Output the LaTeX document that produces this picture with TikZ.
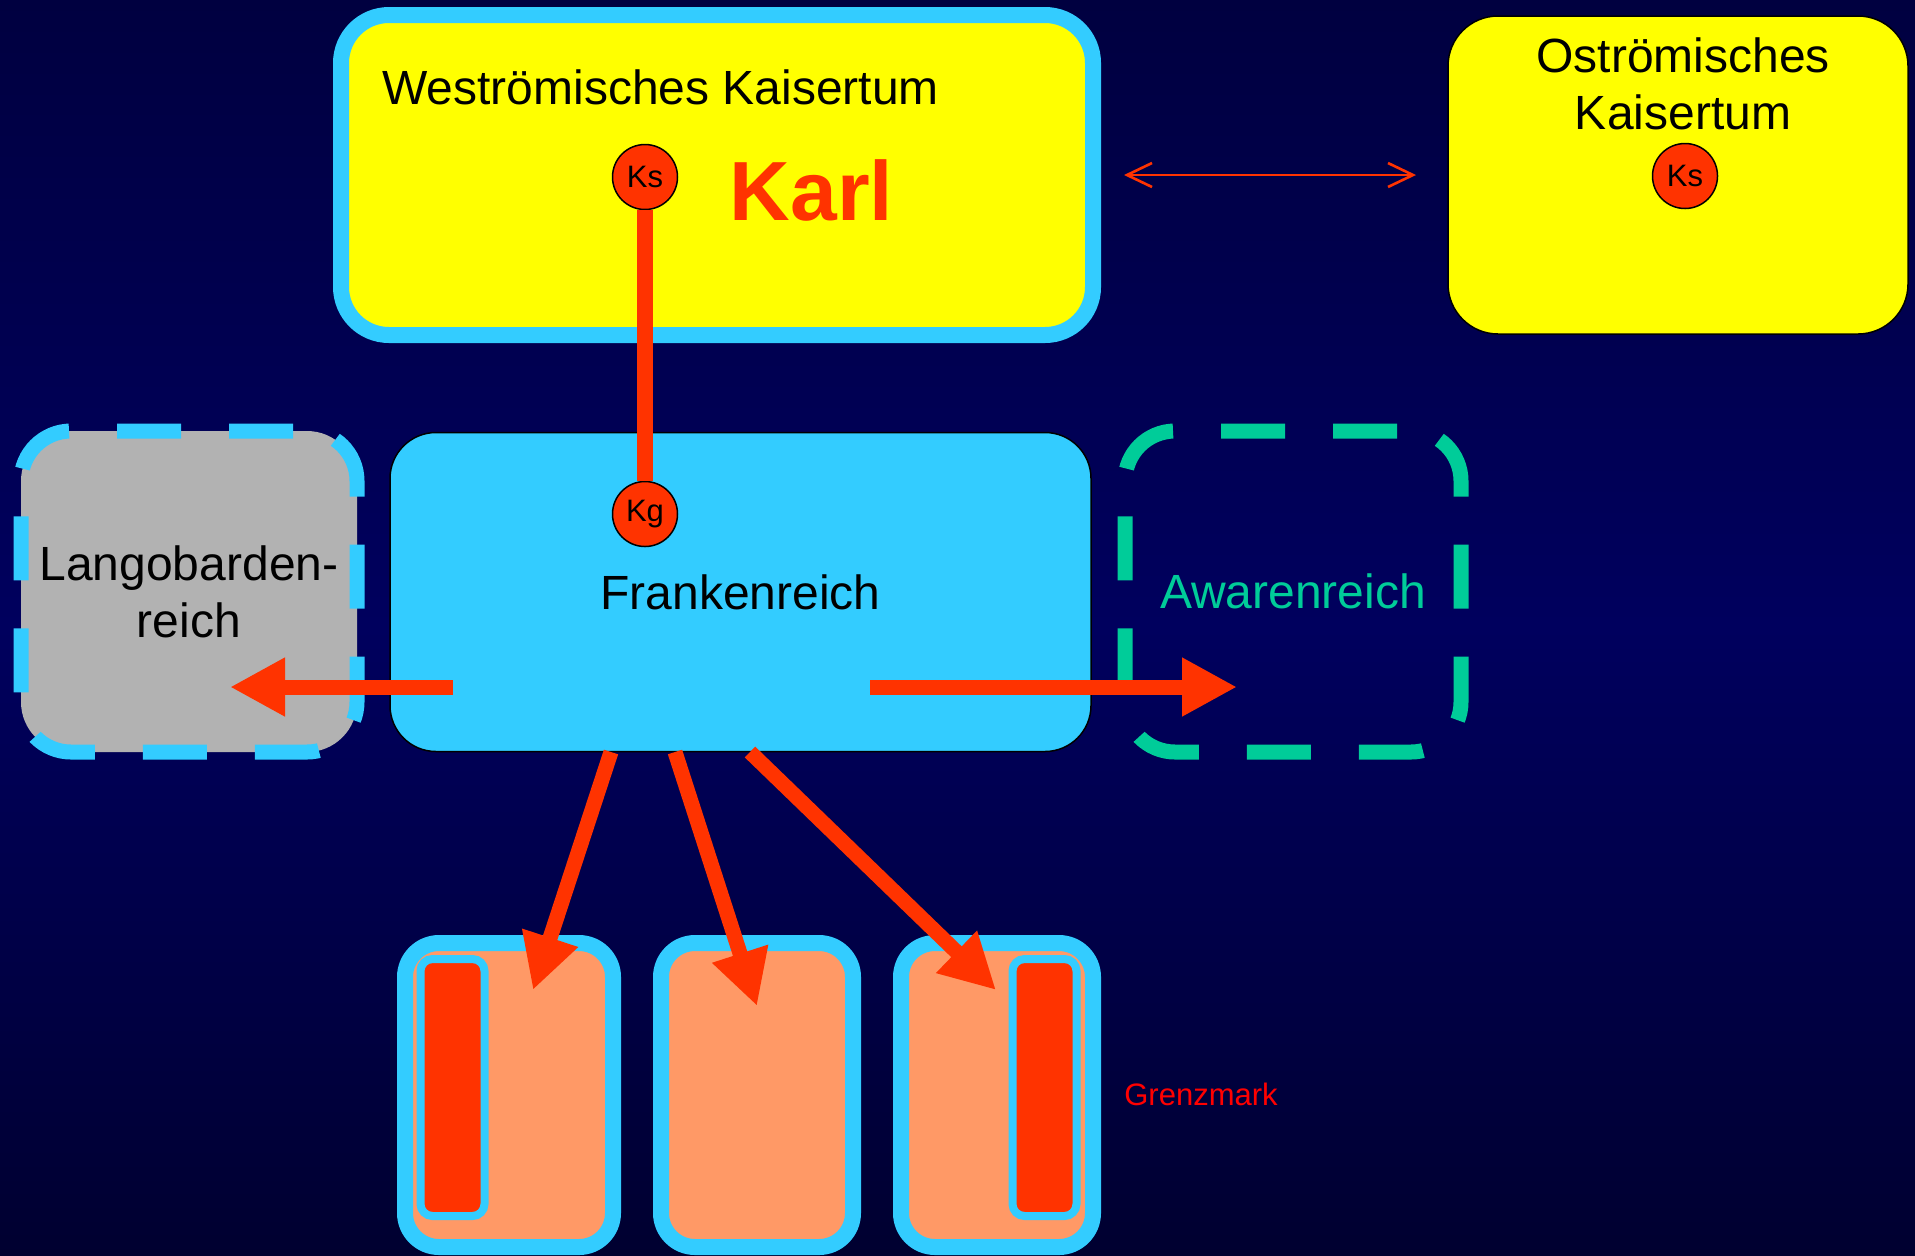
\documentclass[tikz,border=0pt]{standalone}
\usepackage{fontspec}
\setmainfont{Liberation Sans}
\usetikzlibrary{arrows.meta}
\definecolor{bgtop}{HTML}{000040}
\definecolor{bgmid}{HTML}{00005E}
\definecolor{bgbot}{HTML}{000030}
\definecolor{cyanb}{HTML}{33CCFF}
\definecolor{yel}{HTML}{FFFF00}
\definecolor{redo}{HTML}{FF3300}
\definecolor{salmon}{HTML}{FF9966}
\definecolor{grayb}{HTML}{B2B2B2}
\definecolor{greenb}{HTML}{00CC99}
\definecolor{gmred}{HTML}{FF0000}
\begin{document}
\begin{tikzpicture}[x=0.5pt,y=-0.5pt,
  title/.style={font=\fontsize{24}{28.5}\selectfont, text=black, inner sep=0pt},
  kcirc/.style={circle, fill=redo, draw=black, line width=0.75pt, minimum size=32.5pt, inner sep=0pt, font=\fontsize{15.5}{18}\selectfont},
  bigarrow/.style={draw=redo, line width=7.5pt, -{Triangle[length=27.5pt,width=27.5pt]}},
  dashbox/.style={rounded corners=25pt, line width=7.5pt, dash pattern=on 32pt off 24pt, dash phase=49pt, minimum width=168pt, minimum height=160.5pt},
  fiefbox/.style={rounded corners=17pt, fill=salmon, draw=cyanb, line width=8pt, minimum height=152pt},
  markbar/.style={rounded corners=6pt, fill=redo, draw=cyanb, line width=4pt, minimum width=32pt, minimum height=128.5pt}
]
\useasboundingbox (0,0) rectangle (1915,1255);
\shade[top color=bgtop, bottom color=bgbot, middle color=bgmid] (0,0) rectangle (1915,1255);

% boxes
\node[draw=cyanb, fill=yel, line width=8pt, rounded corners=24pt, minimum width=376pt, minimum height=160pt] (west) at (717,175) {};
\node[draw=black, fill=yel, line width=0.75pt, rounded corners=25pt, minimum width=230pt, minimum height=159pt] (east) at (1678,175) {};
\node[draw=black, fill=cyanb, line width=0.75pt, rounded corners=23pt, minimum width=350.5pt, minimum height=159.5pt, title] (franken) at (740.5,592) {Frankenreich};
\node[dashbox, fill=grayb, draw=cyanb, title, align=center] (lango) at (189,591.5) {Langobarden-\\reich};
\node[dashbox, draw=greenb, title, text=greenb] (awaren) at (1293,591.5) {Awarenreich};

\node[fiefbox, minimum width=104pt] (f1) at (509,1095) {};
\node[fiefbox, minimum width=96pt] (f2) at (757,1095) {};
\node[fiefbox, minimum width=96pt] (f3) at (997,1095) {};
\node[markbar] (m1) at (452.5,1087.5) {};
\node[markbar] (m3) at (1044.5,1087.5) {};

% texts
\node[title, anchor=base] (wtitle) at (660.5,104) {Weströmisches Kaisertum};
\node[font=\bfseries\fontsize{42}{50}\selectfont, text=redo, anchor=base, inner sep=0pt] (karl) at (811.5,220) {Karl};
\node[title, align=center] (etitle) at (1683,84) {Oströmisches\\Kaisertum};
\node[font=\fontsize{15.5}{18}\selectfont, text=gmred, anchor=base, inner sep=0pt] (gm) at (1201,1105) {Grenzmark};

% persons
\node[kcirc] (ksw) at (645,177) {Ks};
\node[kcirc] (kse) at (1685,176) {Ks};
\node[kcirc] (kg) at (645,514) {Kg};
\draw[redo, line width=8pt] (ksw) -- (kg);

% connectors
\coordinate (dl) at (1124,175);
\coordinate (dr) at (1416,175);
\draw[redo, line width=1.3pt, {Straight Barb[length=12.5pt,width=12pt]}-{Straight Barb[length=12.5pt,width=12pt]}] (dl) -- (dr);

\coordinate (la) at (453,687);
\coordinate (lb) at (230,687);
\coordinate (ra) at (870,687);
\coordinate (rb) at (1237,687);
\draw[bigarrow] (la) -- (lb);
\draw[bigarrow] (ra) -- (rb);

\coordinate (d1a) at (611,752);
\coordinate (d1b) at (533,990);
\coordinate (d2a) at (675,752);
\coordinate (d2b) at (757,1006);
\coordinate (d3a) at (750,752);
\coordinate (d3b) at (996,990);
\draw[bigarrow] (d1a) -- (d1b);
\draw[bigarrow] (d2a) -- (d2b);
\draw[bigarrow] (d3a) -- (d3b);
\end{tikzpicture}
\end{document}
